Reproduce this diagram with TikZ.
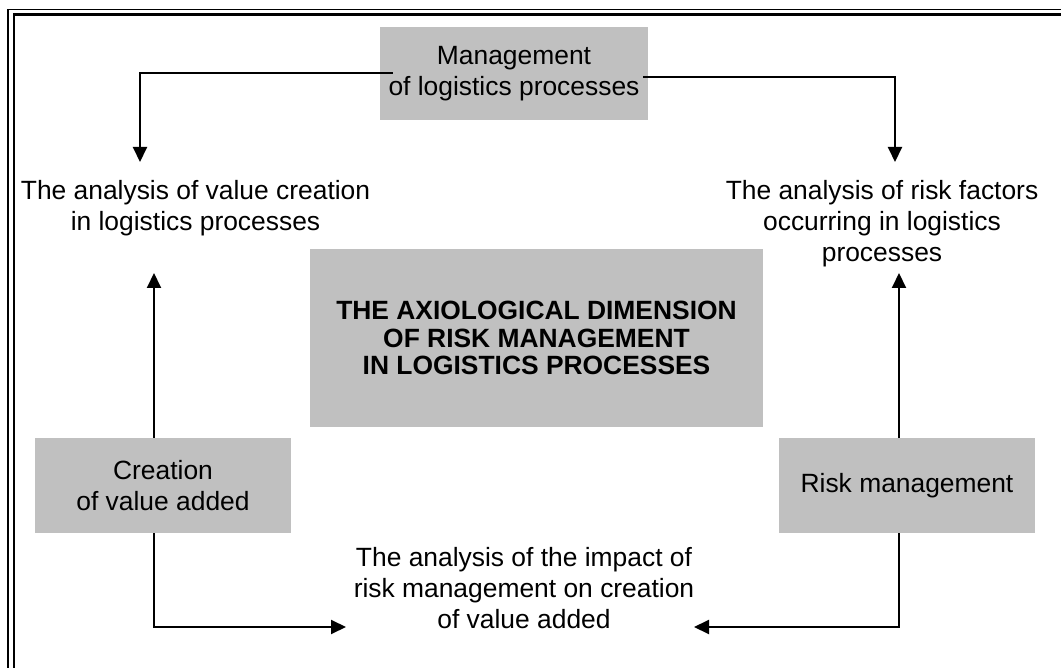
\documentclass[tikz,border=0pt]{standalone}
\usepackage{fontspec}
\setmainfont{Liberation Sans}
\usetikzlibrary{arrows.meta,calc}
\definecolor{boxgray}{HTML}{C0C0C0}
\tikzset{
  graybox/.style={fill=boxgray, draw=none, inner sep=0pt, align=center,
    font=\fontsize{13.2}{15.2}\selectfont},
  plaintext/.style={inner sep=0pt, align=center,
    font=\fontsize{13.2}{15.5}\selectfont},
  titletext/.style={inner sep=0pt, align=center,
    font=\fontsize{13.2}{13.85}\selectfont\bfseries},
  conn/.style={line width=1pt, -{Triangle[length=7.5pt,width=7pt]}},
  plainconn/.style={line width=1pt},
  framethin/.style={line width=0.85pt},
  framethick/.style={line width=1.35pt}
}
\begin{document}
\begin{tikzpicture}[x=0.5pt,y=-0.5pt]
\useasboundingbox (0,0) rectangle (1061,668);
% frame (top and left only)
\draw[framethin] (1061,9.5) -- (8,9.5) -- (8,668);
\draw[framethick] (1061,14.8) -- (14,14.8) -- (14,668);

% gray boxes
\node[graybox, minimum width=134pt, minimum height=46.5pt] (mgmt) at (514,73.5) {Management\\of logistics processes};
\node[graybox, minimum width=226.5pt, minimum height=89pt] (title) at (536.5,338) {};
\node[titletext] (titletxt) at (536.5,338) {THE AXIOLOGICAL DIMENSION\\OF RISK MANAGEMENT\\IN LOGISTICS PROCESSES};
\node[graybox, minimum width=128pt, minimum height=47.5pt] (create) at (163,485.5) {Creation\\of value added};
\node[graybox, minimum width=128pt, minimum height=47.5pt] (risk) at (907,485.5) {Risk management};

% plain texts
\node[plaintext] (valan) at (195.5,208) {The analysis of value creation\\in logistics processes};
\node[plaintext] (riskan) at (882,224) {The analysis of risk factors\\occurring in logistics\\processes};
\node[plaintext] (impact) at (524,588) {The analysis of the impact of\\risk management on creation\\of value added};

% arrow end points
\coordinate (tipA) at (140,162);
\coordinate (tipB) at (895,162);
\coordinate (tipC) at (154,273);
\coordinate (tipD) at (899,273);
\coordinate (tipE) at (346,627);
\coordinate (tipF) at (694,627);

% connectors
\draw[conn] ($(mgmt.west)+(13,-0.5)$) -| (tipA);
\draw[conn] ($(mgmt.east)+(-5,4)$) -| (tipB);
\draw[conn] ($(create.north)+(-9,0)$) -- (tipC);
\draw[conn] ($(risk.north)+(-8,0)$) -- (tipD);
\draw[conn] ($(create.south)+(-9,0)$) |- (tipE);
\draw[conn] ($(risk.south)+(-8,0)$) |- (tipF);
\end{tikzpicture}
\end{document}
